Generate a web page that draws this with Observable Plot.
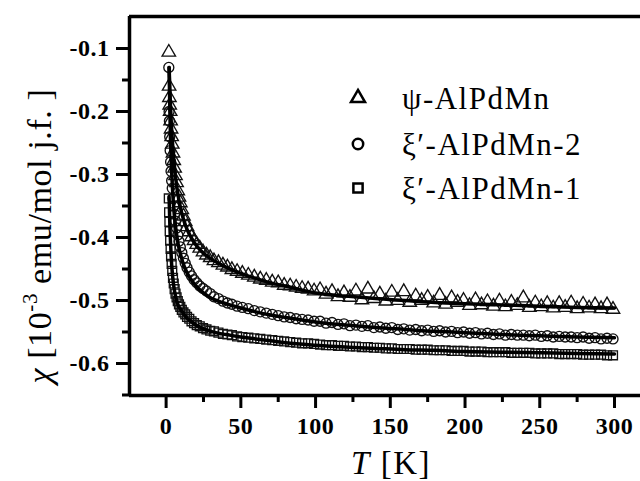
<!DOCTYPE html>
<html>
<head>
<meta charset="utf-8">
<script src="https://cdn.jsdelivr.net/npm/d3@7"></script>
<script src="https://cdn.jsdelivr.net/npm/@observablehq/plot@0.6"></script>
<style>
  html, body { margin: 0; padding: 0; background: #fff; }
  #chart { position: relative; width: 640px; height: 481px; }
  #chart svg text { font-family: 'Liberation Serif', 'Times New Roman', serif !important; }
</style>
</head>
<body>
<div id="chart"></div>
<script>
// ---- Data ----
const seriesNames = ["ψ-AlPdMn", "ξ′-AlPdMn-2", "ξ′-AlPdMn-1"];
const seriesSymbols = ["triangle", "circle", "square"];

// temperatures of the measured points [K]
const T = [1.8,2,2.2,2.4,2.7,3,3.3,3.7,4.1,4.6,5.1,5.7,6.3,7,7.8,8.6,9.5,10.5,11.6,12.8,
  14,15.5,17,18.7,20.5,22.5,24.7,27,29.5,32,35,38,41,44,47.5,51,55,59,63,67,
  71,75,79,83,87,91,95,99,103,107,111,115,119,123,127,131,135,139,143,147,151,155,159,163,
  167,171,175,179,183,187,191,195,199,203,207,211,215,219,223,227,231,235,239,243,247,251,
  255,259,263,267,271,275,279,283,287,291,295,299];

// ψ-AlPdMn (triangles)
const psi = [-0.106,-0.16,-0.178,-0.19,-0.2,-0.215,-0.228,-0.24,-0.252,-0.266,
  -0.278,-0.29,-0.302,-0.313,-0.326,-0.336,-0.345,-0.356,-0.366,-0.375,
  -0.383,-0.391,-0.399,-0.405,-0.411,-0.417,-0.423,-0.428,-0.432,-0.437,
  -0.44,-0.444,-0.447,-0.451,-0.454,-0.457,-0.46,-0.463,-0.466,-0.468,
  -0.471,-0.472,-0.476,-0.477,-0.479,-0.481,-0.482,-0.485,
  -0.483,-0.49,-0.486,-0.494,-0.488,-0.495,-0.485,-0.499,-0.482,-0.497,-0.49,-0.501,-0.487,-0.5,-0.486,-0.503,
  -0.493,-0.5,-0.495,-0.504,-0.492,-0.506,-0.496,-0.503,-0.5,-0.508,-0.499,-0.507,-0.502,-0.509,-0.501,-0.51,
  -0.503,-0.508,-0.496,-0.511,-0.504,-0.51,-0.505,-0.512,-0.505,-0.511,-0.504,-0.513,-0.506,-0.512,-0.507,-0.513,-0.507,-0.514];

// ξ′-AlPdMn-2 (circles)
const xi2 = [-0.13,-0.2,-0.215,-0.24,-0.262,-0.28,-0.295,-0.31,-0.322,-0.338,
  -0.35,-0.363,-0.374,-0.385,-0.396,-0.406,-0.415,-0.424,-0.433,-0.441,
  -0.448,-0.455,-0.461,-0.467,-0.472,-0.477,-0.481,-0.485,-0.489,-0.494,
  -0.497,-0.501,-0.504,-0.506,-0.509,-0.511,-0.513,-0.516,-0.518,-0.52,
  -0.522,-0.524,-0.526,-0.527,-0.529,-0.53,-0.531,-0.533,
  -0.533,-0.536,-0.535,-0.538,-0.537,-0.54,-0.539,-0.541,-0.54,-0.543,-0.542,-0.544,-0.543,-0.546,-0.545,-0.547,
  -0.546,-0.548,-0.547,-0.549,-0.548,-0.55,-0.549,-0.551,-0.55,-0.552,-0.551,-0.553,-0.552,-0.554,-0.553,-0.555,
  -0.554,-0.555,-0.555,-0.556,-0.555,-0.557,-0.556,-0.558,-0.557,-0.558,-0.558,-0.559,-0.558,-0.56,-0.559,-0.561,-0.56,-0.561];

// ξ′-AlPdMn-1 (squares)
const xi1 = [-0.338,-0.36,-0.375,-0.39,-0.405,-0.418,-0.43,-0.442,-0.453,-0.464,
  -0.473,-0.482,-0.489,-0.495,-0.501,-0.506,-0.51,-0.515,-0.519,-0.522,
  -0.526,-0.529,-0.533,-0.536,-0.539,-0.541,-0.544,-0.546,-0.548,-0.549,
  -0.551,-0.553,-0.554,-0.555,-0.557,-0.558,-0.559,-0.56,-0.561,-0.562,
  -0.563,-0.564,-0.565,-0.566,-0.567,-0.568,-0.568,-0.569,
  -0.57,-0.571,-0.571,-0.572,-0.572,-0.573,-0.573,-0.574,-0.574,-0.575,-0.575,-0.576,-0.576,-0.577,-0.577,-0.577,
  -0.578,-0.578,-0.578,-0.579,-0.579,-0.579,-0.58,-0.58,-0.58,-0.581,-0.581,-0.581,-0.582,-0.582,-0.582,-0.582,
  -0.583,-0.583,-0.583,-0.583,-0.584,-0.584,-0.584,-0.584,-0.585,-0.585,-0.585,-0.585,-0.586,-0.586,-0.586,-0.586,-0.587,-0.587];

// fitted curves (solid black lines)
const Tfit = [2,2.5,3,3.5,4,5,6,7,8,10,12,14,17,20,25,30,35,40,50,60,70,80,100,120,140,160,180,200,225,250,275,300];
const psiFit = [-0.13,-0.165,-0.195,-0.22,-0.24,-0.272,-0.297,-0.317,-0.333,-0.357,-0.374,-0.387,-0.401,-0.412,-0.425,-0.434,
  -0.441,-0.447,-0.457,-0.465,-0.472,-0.477,-0.488,-0.493,-0.497,-0.5,-0.503,-0.505,-0.507,-0.509,-0.511,-0.512];
const xi2Fit = [-0.13,-0.2,-0.25,-0.285,-0.31,-0.35,-0.375,-0.395,-0.41,-0.43,-0.445,-0.456,-0.468,-0.477,-0.488,-0.496,
  -0.501,-0.505,-0.512,-0.518,-0.523,-0.527,-0.534,-0.539,-0.543,-0.546,-0.549,-0.551,-0.554,-0.556,-0.558,-0.559];
const xi1Fit = [-0.335,-0.38,-0.41,-0.435,-0.452,-0.475,-0.49,-0.5,-0.507,-0.515,-0.522,-0.528,-0.534,-0.539,-0.545,-0.549,
  -0.552,-0.554,-0.558,-0.561,-0.564,-0.567,-0.571,-0.574,-0.576,-0.578,-0.579,-0.581,-0.582,-0.583,-0.584,-0.585];

// axes
const xDomain = [-24.5, 317.4];
const yDomain = [-0.6508, -0.0492];
const xTicks = [0, 50, 100, 150, 200, 250, 300];
const xMinorTicks = [25, 75, 125, 175, 225, 275];
const yTicks = [-0.6, -0.5, -0.4, -0.3, -0.2, -0.1];
const yMinorTicks = [-0.65, -0.55, -0.45, -0.35, -0.25, -0.15];

// ---- Build tables ----
const allValues = [psi, xi2, xi1];
const allFits = [psiFit, xi2Fit, xi1Fit];
const points = seriesNames.map((name, s) => T.map((t, i) => ({name, T: t, chi: allValues[s][i]})));
const fits = seriesNames.flatMap((name, s) => Tfit.map((t, i) => ({name, T: t, chi: allFits[s][i]})));

const chart = Plot.plot({
  width: 640,
  height: 481,
  marginLeft: 129,
  marginRight: 0,
  marginTop: 16,
  marginBottom: 86,
  x: {domain: xDomain, label: null},
  y: {domain: yDomain, label: null},
  style: {background: "#fff", overflow: "visible"},
  marks: [
    ...points.map((pts, s) => Plot.dot(pts, {
      x: "T", y: "chi", symbol: seriesSymbols[s], r: 5,
      stroke: "#111", strokeWidth: 1.35, fill: "none"
    })),
    Plot.line(fits, {x: "T", y: "chi", z: "name", stroke: "#000", strokeWidth: 3.5, curve: "monotone-x"}),
    Plot.axisX(xTicks, {tickSize: 13, tickPadding: 8, strokeWidth: 3, label: null, tickFormat: d => String(d)}),
    Plot.axisX(xMinorTicks, {tickSize: 7, strokeWidth: 3, label: null, tickFormat: () => ""}),
    Plot.axisY(yTicks, {tickSize: 13, tickPadding: 7, strokeWidth: 3, label: null, tickFormat: d => d.toFixed(1)}),
    Plot.axisY(yMinorTicks, {tickSize: 7, strokeWidth: 3, label: null, tickFormat: () => ""}),
    Plot.ruleX([xDomain[0]], {stroke: "#000", strokeWidth: 3.5}),
    Plot.ruleY(yDomain, {stroke: "#000", strokeWidth: 3.5})
  ]
});

document.getElementById("chart").appendChild(chart);

// ---- Fonts of tick labels ----
const svg = d3.select(chart);
svg.selectAll("text")
  .style("font-size", "24px")
  .style("font-weight", "bold")
  .style("letter-spacing", "0.5px")
  .style("fill", "#000");

// y-axis title
const yt = svg.append("text")
  .attr("transform", "translate(51,236) rotate(-90)")
  .style("text-anchor", "middle")
  .style("font-weight", "normal")
  .style("font-size", "34px")
  .style("letter-spacing", "0.6px")
  .style("fill", "#000");
yt.append("tspan").style("font-style", "italic").text("χ");
yt.append("tspan").text(" [10");
yt.append("tspan").style("font-size", "21px").attr("dy", -14).text("-3");
yt.append("tspan").attr("dy", 14).text(" emu/mol j.f. ]");

// x-axis title
const xt = svg.append("text")
  .attr("x", 391).attr("y", 474)
  .style("text-anchor", "middle")
  .style("font-weight", "normal")
  .style("font-size", "33px")
  .style("letter-spacing", "1.5px")
  .style("fill", "#000");
xt.append("tspan").style("font-style", "italic").text("T");
xt.append("tspan").text(" [K]");

// legend
const legendY = [98, 144, 188];
const d3Symbols = [d3.symbolTriangle, d3.symbolCircle, d3.symbolSquare];
const lg = svg.append("g");
seriesNames.forEach((name, i) => {
  lg.append("path")
    .attr("transform", `translate(358,${legendY[i]})`)
    .attr("d", d3.symbol(d3Symbols[i], 85)())
    .attr("fill", "none").attr("stroke", "#000").attr("stroke-width", 2.5);
  lg.append("text")
    .attr("x", 402).attr("y", legendY[i]).attr("dy", "0.35em")
    .style("text-anchor", "start")
    .style("font-weight", "normal")
    .style("font-size", "31px")
    .style("letter-spacing", "1.5px")
    .style("fill", "#000")
    .text(name);
});
</script>
</body>
</html>
